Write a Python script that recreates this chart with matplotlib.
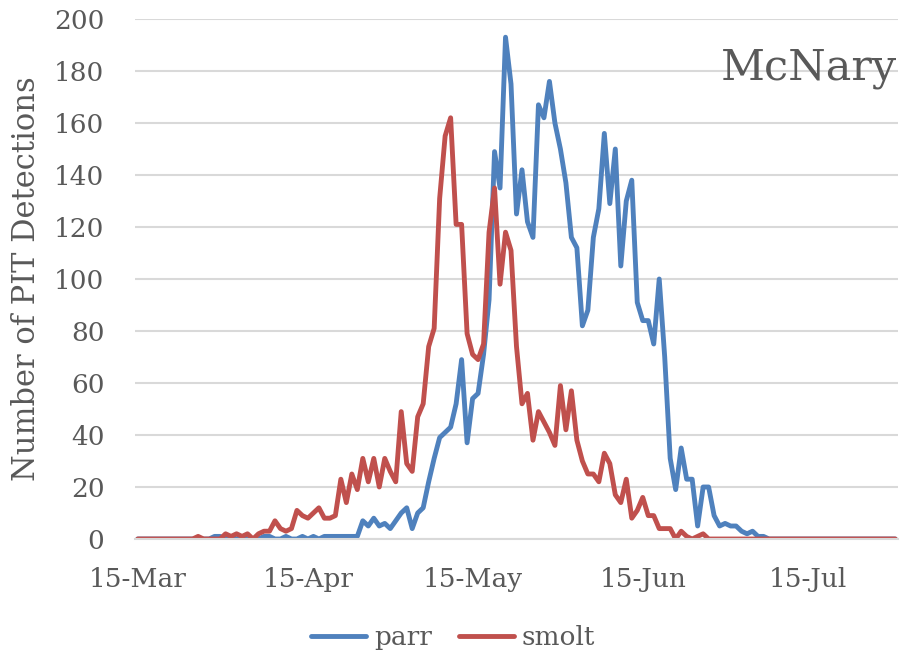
import matplotlib
matplotlib.use("Agg")
import matplotlib.pyplot as plt
import matplotlib.dates as mdates
import pandas as pd

# daily counts, 15-Mar .. 31-Jul
start_date = "2015-03-15"
end_date = "2015-07-31"

parr = ([0] * 11 +
        [0, 0, 0, 1, 1, 0, 1, 0, 1, 0, 0, 0, 1, 1, 0, 0, 1, 0, 0, 1,
         0, 1, 0, 1, 1, 1, 1, 1, 1, 1] +
        [7, 5, 8, 5, 6, 4, 7, 10, 12, 4, 10, 12, 22, 31, 39, 41, 43, 52,
         69, 37, 54, 56, 71, 92] +
        [149, 135, 193, 175, 125, 142, 122, 116, 167, 162, 176, 160, 150,
         137, 116, 112, 82, 88, 116, 127, 156, 129, 150, 105, 130, 138, 91,
         84, 84, 75, 100] +
        [70, 31, 19, 35, 23, 23, 5, 20, 20, 9, 5, 6, 5, 5, 3, 2, 3, 1, 1, 0] +
        [0] * 23)

smolt = ([0] * 11 +
         [1, 0, 0, 0, 0, 2, 1, 2, 1, 2, 0, 2, 3, 3, 7, 4, 3, 4, 11, 9,
          8, 10, 12, 8, 8, 9, 23, 14, 25, 19] +
         [31, 22, 31, 20, 31, 26, 22, 49, 29, 26, 47, 52, 74, 81, 131, 155,
          162, 121, 121, 79, 71, 69, 75, 118] +
         [135, 98, 118, 111, 74, 52, 56, 38, 49, 45, 41, 36, 59, 42, 57, 38,
          30, 25, 25, 22, 33, 29, 17, 14, 23, 8, 11, 16, 9, 9, 4] +
         [4, 4, 0, 3, 1, 0, 1, 2, 0] +
         [0] * 34)

tick_dates = ["2015-03-15", "2015-04-15", "2015-05-15", "2015-06-15", "2015-07-15"]
yticks = list(range(0, 201, 20))

dates = pd.date_range(start_date, end_date, freq="D")

plt.rcParams["font.family"] = ["DejaVu Serif"]
text_color = "#595959"

fig = plt.figure(figsize=(9.01, 6.59), dpi=100)
ax = fig.add_axes([135 / 901, 1 - 539 / 659, (898 - 135) / 901, (539 - 19) / 659])

ax.plot(dates, parr, color="#4F81BD", lw=3.5, label="parr",
        solid_capstyle="round", solid_joinstyle="round")
ax.plot(dates, smolt, color="#C0504D", lw=3.5, label="smolt",
        solid_capstyle="round", solid_joinstyle="round")

ax.set_ylim(0, 200)
ax.set_yticks(yticks)
ax.set_xlim(pd.Timestamp(start_date) - pd.Timedelta(hours=12),
            pd.Timestamp(end_date) + pd.Timedelta(hours=12))
ax.set_xticks(pd.to_datetime(tick_dates))
ax.xaxis.set_major_formatter(mdates.DateFormatter("%d-%b"))

ax.grid(axis="y", color="#D9D9D9", lw=1.5)
ax.set_axisbelow(True)
for s in ["top", "right", "left"]:
    ax.spines[s].set_visible(False)
ax.spines["bottom"].set_color("#D9D9D9")
ax.spines["bottom"].set_linewidth(1.5)

ax.tick_params(axis="both", length=0, labelsize=19, labelcolor=text_color)
ax.tick_params(axis="y", pad=22)
ax.tick_params(axis="x", pad=20)

ax.set_ylabel("Number of PIT Detections", fontsize=22, color=text_color)
ax.yaxis.set_label_coords(-93 / 763, 0.5)

fig.text(897 / 901, 1 - 68 / 659, "McNary", ha="right", va="center",
         fontsize=31, color=text_color)

fig.legend(loc="center", bbox_to_anchor=(0.503, 0.033), ncol=2, frameon=False,
           fontsize=19, handlelength=2.1, handletextpad=0.3, columnspacing=1.0,
           labelcolor=text_color)

fig.savefig("out.png", dpi=100)
